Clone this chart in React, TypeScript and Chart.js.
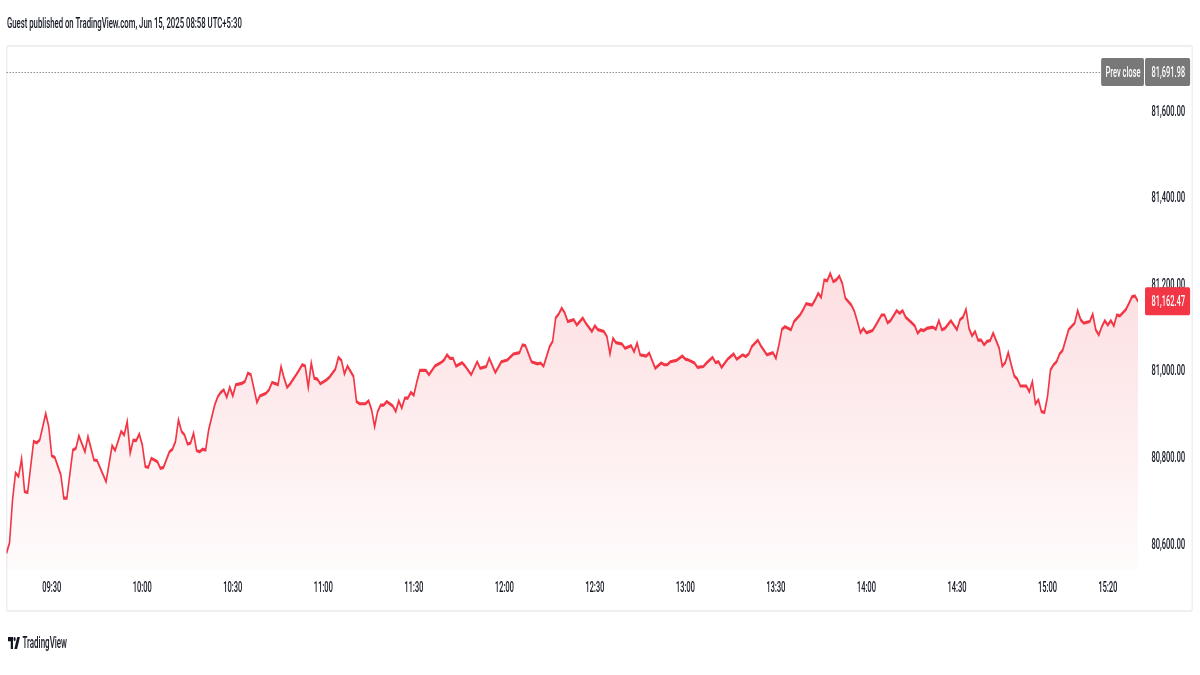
import React, { useEffect, useRef } from "react";
import { Chart, registerables } from "chart.js";

Chart.register(...registerables);

// ---- data (minutes since 09:15 session open, index level) ----
const minutes = [
  0, 1, 2, 3, 4, 5, 6, 7, 9, 10, 11, 13, 14, 15, 16, 18, 19, 20, 22, 23, 24, 26, 27, 29, 30, 33, 35, 36, 38, 39,
  40, 41, 42, 43, 44, 45, 46, 47, 48, 50, 51, 52, 54, 55, 56, 57, 58, 59, 60, 61, 62, 63, 64, 65, 66, 67, 69, 70, 71, 72,
  73, 74, 75, 76, 78, 79, 80, 81, 83, 84, 86, 87, 88, 90, 91, 92, 93, 94, 96, 97, 98, 99, 100, 101, 102, 103, 104, 106, 107, 109,
  110, 111, 112, 113, 115, 116, 117, 119, 120, 121, 122, 123, 124, 125, 126, 128, 129, 130, 131, 132, 133, 134, 135, 136, 137, 139, 140, 142, 144, 145,
  146, 147, 148, 149, 151, 152, 154, 156, 157, 159, 160, 162, 164, 166, 168, 170, 171, 172, 174, 176, 177, 178, 180, 181, 182, 183, 184, 185, 186, 188,
  189, 191, 192, 194, 195, 196, 198, 199, 200, 201, 202, 204, 205, 207, 208, 209, 210, 212, 213, 215, 217, 218, 219, 220, 222, 224, 225, 226, 228, 229,
  231, 232, 234, 235, 236, 237, 239, 241, 242, 244, 245, 246, 247, 249, 250, 252, 254, 255, 256, 257, 258, 260, 261, 263, 264, 265, 267, 268, 269, 270,
  271, 272, 273, 274, 275, 276, 277, 278, 280, 281, 282, 283, 284, 285, 287, 288, 290, 291, 292, 293, 295, 296, 297, 298, 300, 301, 302, 303, 304, 305,
  307, 308, 309, 310, 311, 313, 315, 316, 317, 318, 319, 320, 321, 322, 323, 324, 325, 326, 327, 329, 330, 331, 332, 333, 334, 335, 336, 338, 339, 340,
  341, 342, 343, 344, 345, 346, 347, 348, 349, 350, 351, 352, 354, 355, 356, 357, 359, 360, 361, 362, 363, 364, 365, 366, 367, 368, 369, 371, 372, 373,
  374, 375,
];

const values = [
  80581, 80605, 80704, 80766, 80758, 80799, 80723, 80721, 80839, 80836, 80842, 80903, 80873, 80806, 80802, 80762, 80708, 80708, 80819, 80823, 80852, 80815, 80850, 80796, 80795, 80746, 80829, 80818, 80862, 80854,
  80885, 80812, 80842, 80841, 80856, 80831, 80781, 80779, 80800, 80792, 80777, 80779, 80815, 80821, 80839, 80889, 80862, 80854, 80833, 80835, 80858, 80818, 80815, 80821, 80819, 80866, 80923, 80942, 80952, 80958,
  80941, 80964, 80944, 80970, 80973, 80977, 80997, 80993, 80929, 80944, 80950, 80958, 80975, 80970, 81012, 80985, 80964, 80972, 80993, 81004, 81016, 81013, 80964, 81020, 80985, 80983, 80972, 80981, 80987, 81006,
  81033, 81026, 80995, 81013, 80989, 80931, 80926, 80926, 80933, 80912, 80873, 80908, 80923, 80923, 80931, 80921, 80908, 80933, 80916, 80939, 80939, 80952, 80946, 80977, 81003, 81003, 80993, 81013, 81021, 81027,
  81039, 81031, 81031, 81013, 81021, 81013, 80993, 81023, 81008, 81012, 81031, 80998, 81023, 81027, 81041, 81044, 81062, 81060, 81023, 81018, 81020, 81013, 81058, 81070, 81124, 81133, 81147, 81136, 81116, 81120,
  81108, 81124, 81112, 81093, 81106, 81097, 81093, 81081, 81041, 81077, 81067, 81064, 81054, 81060, 81046, 81066, 81039, 81036, 81043, 81008, 81020, 81016, 81016, 81023, 81026, 81036, 81029, 81027, 81020, 81010,
  81012, 81020, 81033, 81021, 81023, 81010, 81029, 81041, 81029, 81039, 81035, 81041, 81058, 81073, 81060, 81039, 81044, 81031, 81062, 81098, 81104, 81097, 81116, 81131, 81143, 81157, 81154, 81166, 81181, 81172,
  81212, 81210, 81227, 81208, 81212, 81221, 81204, 81170, 81154, 81139, 81116, 81090, 81100, 81090, 81095, 81106, 81131, 81131, 81113, 81118, 81141, 81135, 81141, 81126, 81113, 81106, 81089, 81097, 81095, 81100,
  81103, 81098, 81118, 81097, 81100, 81118, 81097, 81120, 81126, 81144, 81100, 81083, 81093, 81073, 81073, 81062, 81070, 81072, 81089, 81054, 81013, 81021, 81044, 81016, 80990, 80983, 80967, 80967, 80954, 80977,
  80926, 80935, 80908, 80906, 80942, 81004, 81016, 81023, 81041, 81049, 81073, 81097, 81112, 81141, 81120, 81112, 81116, 81133, 81097, 81085, 81104, 81118, 81108, 81118, 81106, 81131, 81129, 81144, 81158, 81173,
  81175, 81162.47,
];

const xTickLabels = ["09:30", "10:00", "10:30", "11:00", "11:30", "12:00", "12:30", "13:00", "13:30", "14:00", "14:30", "15:00", "15:20"];
const yTickValues = [80600, 80800, 81000, 81200, 81400, 81600];
const prevClose = 81691.98;
const lastPrice = 81162.47;
const yMin = 80542;
const yMax = 81743;
const sessionStart = "09:15";
const sessionEnd = "15:30";
const headerText = "Guest published on TradingView.com, Jun 15, 2025 08:58 UTC+5:30";

// ---- layout / style ----
const SQUEEZE = 0.5;
const W = 2400;
const H = 675;
const FONT_FAMILY = "Roboto, 'Liberation Sans', sans-serif";
const FONT_WEIGHT = "500";
const TEXT_COLOR = "#131722";
const RED = "#f23645";

const toClock = (t: string) => {
  const [h, m] = t.split(":").map(Number);
  return h * 60 + m;
};
const toSessionMinute = (t: string) => toClock(t) - toClock(sessionStart);
const fmt = (v: number) =>
  v.toLocaleString("en-US", { minimumFractionDigits: 2, maximumFractionDigits: 2 });

const priceLabelsPlugin = {
  id: "priceLabels",
  beforeDatasetsDraw(chart: any) {
    const { ctx, chartArea } = chart;
    const y = chart.scales.y.getPixelForValue(prevClose);
    ctx.save();
    ctx.strokeStyle = "#8a8d96";
    ctx.lineWidth = 1;
    ctx.setLineDash([3, 3]);
    ctx.beginPath();
    ctx.moveTo(chartArea.left, Math.round(y) + 0.5);
    ctx.lineTo(chartArea.right, Math.round(y) + 0.5);
    ctx.stroke();
    ctx.restore();
  },
  afterDraw(chart: any) {
    const { ctx, chartArea } = chart;
    const ys = chart.scales.y;
    ctx.save();
    ctx.font = `${FONT_WEIGHT} 15px ${FONT_FAMILY}`;
    ctx.textBaseline = "middle";
    ctx.textAlign = "left";
    const boxH = 28;
    const box = (l: number, r: number, cy: number, bg: string) => {
      ctx.fillStyle = bg;
      ctx.beginPath();
      (ctx as any).roundRect(l, cy - boxH / 2, r - l, boxH, 3);
      ctx.fill();
    };
    // prev close
    {
      const cy = ys.getPixelForValue(prevClose);
      const txt = fmt(prevClose);
      const tw = ctx.measureText(txt).width;
      const boxL = chartArea.right + 14;
      const textX = chartArea.right + 27;
      const boxR = textX + tw + 10;
      box(boxL, boxR, cy, "#787878");
      ctx.fillStyle = "#ffffff";
      ctx.fillText(txt, textX, cy + 1);
      const label = "Prev close";
      const lw = ctx.measureText(label).width;
      const pr = boxL - 2;
      const pl = pr - lw - 16;
      box(pl, pr, cy, "#787878");
      ctx.fillStyle = "#ffffff";
      ctx.fillText(label, pl + 9, cy + 1);
    }
    // last price
    {
      const cy = ys.getPixelForValue(lastPrice);
      const txt = fmt(lastPrice);
      const tw = ctx.measureText(txt).width;
      const boxL = chartArea.right + 14;
      const textX = chartArea.right + 27;
      const boxR = textX + tw + 10;
      box(boxL, boxR, cy, RED);
      ctx.fillStyle = "#ffffff";
      ctx.fillText(txt, textX, cy + 1);
    }
    ctx.restore();
  },
};

export default function App() {
  const canvasRef = useRef<HTMLCanvasElement | null>(null);

  useEffect(() => {
    const canvas = canvasRef.current;
    if (!canvas) return;
    const points = minutes.map((m, i) => ({ x: m, y: values[i] }));
    const tickFont = { family: FONT_FAMILY, size: 15, weight: FONT_WEIGHT };
    const chart = new Chart(canvas, {
      type: "line",
      data: {
        datasets: [
          {
            data: points,
            borderColor: RED,
            borderWidth: 3.2,
            pointRadius: 0,
            tension: 0,
            fill: "start",
            backgroundColor: (c: any) => {
              const area = c.chart.chartArea;
              if (!area) return "rgba(242,54,69,0.1)";
              const g = c.chart.ctx.createLinearGradient(0, area.top, 0, area.bottom);
              g.addColorStop(0, "rgba(242,54,69,0.27)");
              g.addColorStop(1, "rgba(242,54,69,0.015)");
              return g;
            },
          },
        ],
      },
      options: {
        responsive: false,
        animation: false,
        devicePixelRatio: 1,
        layout: { padding: { left: 13, top: 50, right: 0, bottom: 0 } },
        plugins: { legend: { display: false }, tooltip: { enabled: false } },
        scales: {
          x: {
            type: "linear",
            min: 0,
            max: toSessionMinute(sessionEnd),
            grid: { display: false, drawTicks: false },
            border: { display: false },
            afterBuildTicks: (s: any) => {
              s.ticks = xTickLabels.map((l) => ({ value: toSessionMinute(l) }));
            },
            afterFit: (s: any) => {
              s.height = 105;
            },
            ticks: {
              autoSkip: false,
              maxRotation: 0,
              minRotation: 0,
              padding: 9,
              font: tickFont,
              color: TEXT_COLOR,
              callback: (_v: any, i: number) => xTickLabels[i],
            },
          },
          y: {
            position: "right",
            min: yMin,
            max: yMax,
            grid: { display: false, drawTicks: false },
            border: { display: false },
            afterBuildTicks: (s: any) => {
              s.ticks = yTickValues.map((v) => ({ value: v }));
            },
            afterFit: (s: any) => {
              s.width = 124;
            },
            ticks: {
              padding: 27,
              font: tickFont,
              color: TEXT_COLOR,
              callback: (v: any) => fmt(Number(v)),
            },
          },
        },
      },
      plugins: [priceLabelsPlugin],
    } as any);
    return () => chart.destroy();
  }, []);

  return (
    <div
      style={{
        position: "absolute",
        left: 0,
        top: 0,
        width: 1200,
        height: 675,
        overflow: "hidden",
        background: "#ffffff",
      }}
    >
      <div
        style={{
          position: "absolute",
          left: 0,
          top: 0,
          width: W,
          height: H,
          transform: `scaleX(${SQUEEZE})`,
          transformOrigin: "0 0",
          fontFamily: FONT_FAMILY,
          fontWeight: 500,
          color: TEXT_COLOR,
        }}
      >
        <div
          style={{
            position: "absolute",
            left: 14,
            top: 15,
            fontSize: 15.5,
            lineHeight: "16px",
            whiteSpace: "nowrap",
          }}
        >
          {headerText}
        </div>
        <div
          style={{
            position: "absolute",
            left: 12,
            top: 45,
            width: 2386 - 12,
            height: 612 - 45,
            boxSizing: "border-box",
            borderTop: "2px solid #eeeff2",
            borderBottom: "2px solid #eeeff2",
            borderLeft: "3px solid #eeeff2",
            borderRight: "3px solid #eeeff2",
            borderRadius: 4,
          }}
        />
        <canvas
          ref={canvasRef}
          width={W}
          height={H}
          style={{ position: "absolute", left: 0, top: 0, width: W, height: H }}
        />
        <div
          style={{
            position: "absolute",
            left: 16,
            top: 635,
            display: "flex",
            alignItems: "center",
            whiteSpace: "nowrap",
          }}
        >
          <svg width="24" height="12" viewBox="0 0 24 12" style={{ display: "block" }}>
            <path d="M0 0 H10 V12 H5.5 V4.2 H0 Z" fill={TEXT_COLOR} />
            <ellipse cx="13.2" cy="2.1" rx="2.2" ry="2.1" fill={TEXT_COLOR} />
            <path d="M18.5 0 H24 L18.2 12 H12.6 Z" fill={TEXT_COLOR} />
          </svg>
          <span style={{ marginLeft: 5, fontSize: 16, lineHeight: "16px" }}>TradingView</span>
        </div>
      </div>
    </div>
  );
}
